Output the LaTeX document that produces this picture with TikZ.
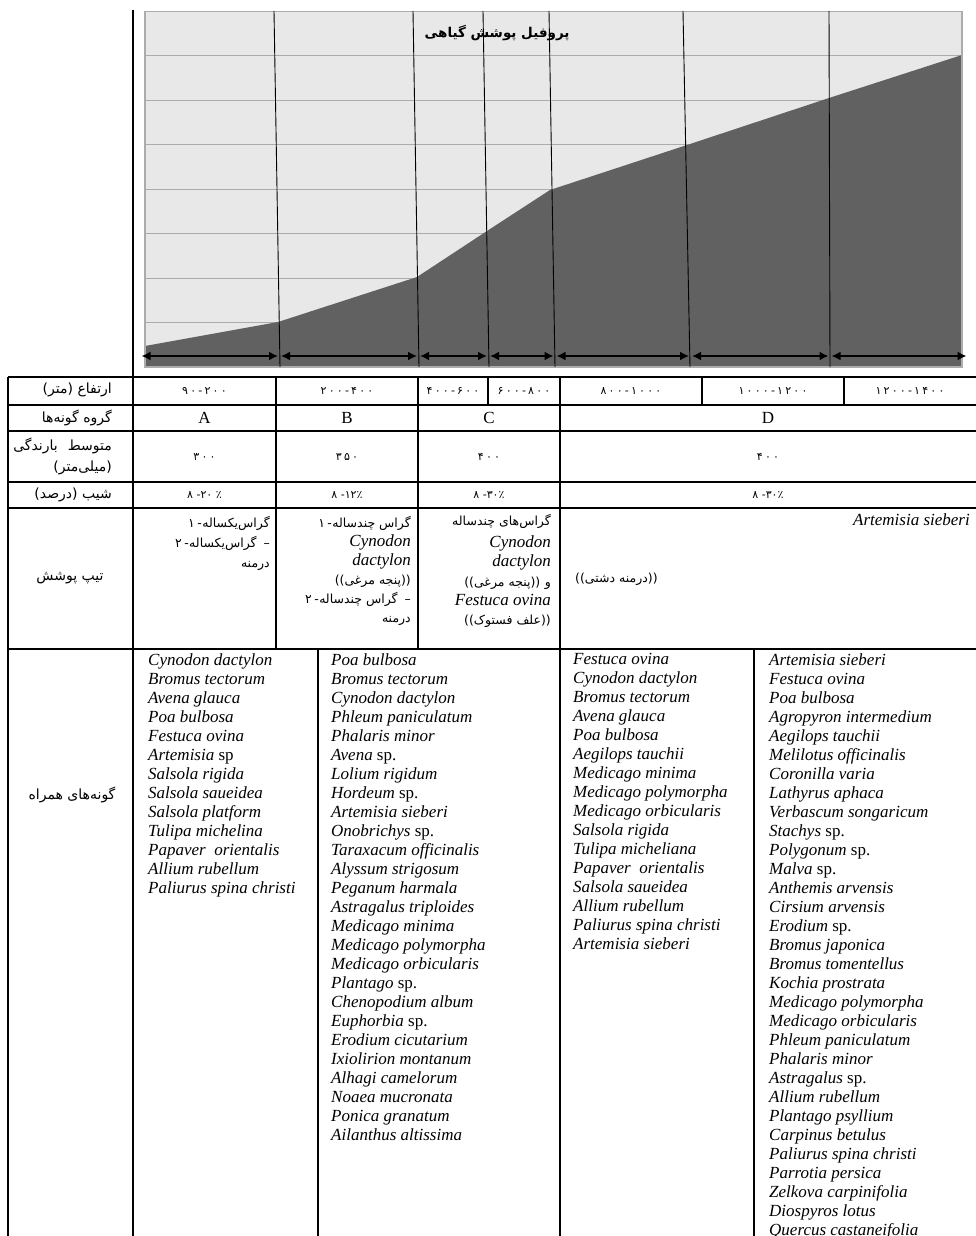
\documentclass[tikz,border=0pt]{standalone}
\usepackage{fontspec}
\setmainfont{Liberation Serif}
\newfontfamily\farsi[Script=Arabic]{DejaVu Sans}
\newfontfamily\fanum[LetterSpace=20]{DejaVu Sans}
\TeXXeTstate=1
\usetikzlibrary{arrows.meta}
\newcommand{\fa}[1]{{\farsi\beginR #1\endR}}

\tikzset{
  grid line/.style={draw=gray!65, line width=0.8pt},
  zone line/.style={draw=black, line width=0.9pt},
  span arrow/.style={{Latex[length=9pt,width=9pt]}-{Latex[length=9pt,width=9pt]}, line width=1.8pt, shorten <=1.5pt, shorten >=1.5pt},
  rule/.style={line width=1.8pt},
  fa label/.style={font=\farsi\fontsize{14}{16}\selectfont, inner sep=0pt},
  num/.style={font=\fanum\fontsize{11}{12}\selectfont, inner sep=0pt},
  group/.style={font=\fontsize{17}{19}\selectfont, inner sep=0pt},
  cell/.style={font=\farsi\fontsize{12.5}{15}\selectfont, anchor=base east, inner sep=0pt},
  cellnum/.style={font=\fanum\fontsize{12.5}{15}\selectfont, anchor=base east, inner sep=0pt},
  cellit/.style={font=\itshape\fontsize{17}{19}\selectfont, anchor=base east, inner sep=0pt},
  species/.style={font=\itshape\fontsize{17}{19}\selectfont, align=left, anchor=north west, inner sep=0pt},
}

\begin{document}
\begin{tikzpicture}[x=1pt,y=-1pt]
\useasboundingbox (0,0) rectangle (976,1236);

% Profil
\fill[gray!18] (145,11) rectangle (962,367);
\foreach \k in {0,...,8}
  \draw[grid line] (145,{11+44.5*\k}) -- (962,{11+44.5*\k});
\fill[black!62] (145,346) -- (278,322) -- (417,277) -- (487,231) -- (550,190)
  -- (687,145) -- (829,98) -- (962,55) -- (962,367) -- (145,367) -- cycle;
\draw[gray!65, line width=1.5pt] (145,11) -- (145,367) -- (962,367) -- (962,11);
\node[font=\farsi\bfseries\fontsize{13.5}{15}\selectfont] (titel) at (497,33) {\fa{پروفیل پوشش گیاهی}};

% Grenzen der Hoehenstufen
\draw[zone line] (274,11) -- (280,367);
\draw[zone line] (413,11) -- (419,367);
\draw[zone line] (483,11) -- (489,367);
\draw[zone line] (549,11) -- (555,367);
\draw[zone line] (683,11) -- (690,367);
\draw[zone line] (829,11) -- (830,367);

% Pfeile
\coordinate (b0) at (140,356);
\coordinate (b1) at (279.5,356);
\coordinate (b2) at (418.5,356);
\coordinate (b3) at (488.5,356);
\coordinate (b4) at (555,356);
\coordinate (b5) at (690.5,356);
\coordinate (b6) at (830,356);
\coordinate (b7) at (968,356);
\draw[span arrow] (b0) -- (b1);
\draw[span arrow] (b1) -- (b2);
\draw[span arrow] (b2) -- (b3);
\draw[span arrow] (b3) -- (b4);
\draw[span arrow] (b4) -- (b5);
\draw[span arrow] (b5) -- (b6);
\draw[span arrow] (b6) -- (b7);

% Tabelle
\draw[rule] (133,10) -- (133,1236);
\draw[rule] (8,377) -- (976,377);
\draw[rule] (8,405) -- (976,405);
\draw[rule] (8,431) -- (976,431);
\draw[rule] (8,482) -- (976,482);
\draw[rule] (8,508) -- (976,508);
\draw[rule] (8,649) -- (976,649);
\draw[rule] (8,377) -- (8,1236);
\draw[rule] (276,377) -- (276,649);
\draw[rule] (418,377) -- (418,649);
\draw[rule] (560,377) -- (560,1236);
\draw[line width=1.2pt] (488,377) -- (488,405);
\draw[line width=1.2pt] (702,377) -- (702,405);
\draw[line width=1.2pt] (844,377) -- (844,405);
\draw[rule] (318,649) -- (318,1236);
\draw[rule] (754,649) -- (754,1236);

% Kopfspalte
\node[fa label, anchor=east] (hAlt) at (112,390) {\fa{ارتفاع (متر)}};
\node[fa label, anchor=east] (hGrp) at (112,418) {\fa{گروه گونه‌ها}};
\node[fa label, anchor=east] (hRain) at (112,446) {\fa{متوسط\hspace{10pt}بارندگی}};
\node[fa label, anchor=east] (hRain2) at (112,468) {\fa{(میلی‌متر)}};
\node[fa label, anchor=east] (hSlope) at (112,495) {\fa{شیب (درصد)}};
\node[fa label] (hType) at (70,578) {\fa{تیپ پوشش}};
\node[fa label] (hSpec) at (72,795) {\fa{گونه‌های همراه}};

% Hoehe
\node[num] (alt1) at (204.5,391) {۹۰-۲۰۰};
\node[num] (alt2) at (347,391) {۲۰۰-۴۰۰};
\node[num] (alt3) at (453,391) {۴۰۰-۶۰۰};
\node[num] (alt4) at (524,391) {۶۰۰-۸۰۰};
\node[num] (alt5) at (631,391) {۸۰۰-۱۰۰۰};
\node[num] (alt6) at (773,391) {۱۰۰۰-۱۲۰۰};
\node[num] (alt7) at (910,391) {۱۲۰۰-۱۴۰۰};

% Gruppen
\node[group] (gA) at (204.5,418) {A};
\node[group] (gB) at (347,418) {B};
\node[group] (gC) at (489,418) {C};
\node[group] (gD) at (768,418) {D};

% Niederschlag
\node[num] (rA) at (204.5,457) {۳۰۰};
\node[num] (rB) at (347,457) {۳۵۰};
\node[num] (rC) at (489,457) {۴۰۰};
\node[num] (rD) at (768,457) {۴۰۰};

% Neigung
\node[num] (sA) at (204.5,495) {\fa{٪ ۲۰- ۸}};
\node[num] (sB) at (347,495) {\fa{۱۲٪- ۸}};
\node[num] (sC) at (489,495) {\fa{۳۰٪- ۸}};
\node[num] (sD) at (768,495) {\fa{۳۰٪- ۸}};

% Vegetationstyp A
\node[cell] (tA1) at (270,527) {\fa{گراس‌یکساله}};
\node[cellnum] (tA1n) at (tA1.base west) {۱-};
\node[cellnum] (tA2d) at (270,547) {\ –};
\node[cell] (tA2) at (tA2d.base west) {\fa{گراس‌یکساله}};
\node[cellnum] (tA2n) at (tA2.base west) {۲-};
\node[cell] (tA3) at (270,567) {\fa{درمنه}};

% Vegetationstyp B
\node[cell] (tB1) at (411,527) {\fa{گراس چندساله}};
\node[cellnum] (tB1n) at (tB1.base west) {۱-};
\node[cellit] (tB2) at (411,546) {Cynodon};
\node[cellit] (tB3) at (411,565) {dactylon};
\node[cell] (tB4) at (411,584) {\fa{((پنجه مرغی))}};
\node[cellnum] (tB5d) at (411,603) {\ –};
\node[cell] (tB5) at (tB5d.base west) {\fa{گراس چندساله}};
\node[cellnum] (tB5n) at (tB5.base west) {۲-\ };
\node[cell] (tB6) at (411,622) {\fa{درمنه}};

% Vegetationstyp C
\node[cell] (tC1) at (551,525) {\fa{گراس‌های چندساله}};
\node[cellit] (tC2) at (551,547) {Cynodon};
\node[cellit] (tC3) at (551,566) {dactylon};
\node[cell] (tC4o) at (551,586) {\fa{و}};
\node[cell] (tC4) at ([xshift=-4pt]tC4o.base west) {\fa{((پنجه مرغی))}};
\node[cellit] (tC5) at (551,605) {Festuca ovina};
\node[cell] (tC6) at (551,624) {\fa{((علف فستوک))}};

% Vegetationstyp D
\node[cellit] (tD1) at (970,525) {Artemisia sieberi};
\node[cell, anchor=base west] (tD2) at (575,582) {\fa{((درمنه دشتی))}};

% Begleitarten
\node[species] (spA) at (148,653) {Cynodon dactylon\\ Bromus tectorum\\ Avena glauca\\ Poa bulbosa\\ Festuca ovina\\
Artemisia \textup{sp}\\ Salsola rigida\\ Salsola saueidea\\ Salsola platform\\ Tulipa michelina\\
Papaver\ \ orientalis\\ Allium rubellum\\ Paliurus spina christi};
\node[species] (spB) at (331,653) {Poa bulbosa\\ Bromus tectorum\\ Cynodon dactylon\\ Phleum paniculatum\\ Phalaris minor\\
Avena \textup{sp.}\\ Lolium rigidum\\ Hordeum \textup{sp.}\\ Artemisia sieberi\\ Onobrichys \textup{sp.}\\
Taraxacum officinalis\\ Alyssum strigosum\\ Peganum harmala\\ Astragalus triploides\\ Medicago minima\\
Medicago polymorpha\\ Medicago orbicularis\\ Plantago \textup{sp.}\\ Chenopodium album\\ Euphorbia \textup{sp.}\\
Erodium cicutarium\\ Ixiolirion montanum\\ Alhagi camelorum\\ Noaea mucronata\\ Ponica granatum\\
Ailanthus altissima};
\node[species] (spC) at (573,653) {Festuca ovina\\ Cynodon dactylon\\ Bromus tectorum\\ Avena glauca\\ Poa bulbosa\\
Aegilops tauchii\\ Medicago minima\\ Medicago polymorpha\\ Medicago orbicularis\\ Salsola rigida\\
Tulipa micheliana\\ Papaver\ \ orientalis\\ Salsola saueidea\\ Allium rubellum\\ Paliurus spina christi\\
Artemisia sieberi};
\node[species] (spD) at (769,653) {Artemisia sieberi\\ Festuca ovina\\ Poa bulbosa\\ Agropyron intermedium\\ Aegilops tauchii\\
Melilotus officinalis\\ Coronilla varia\\ Lathyrus aphaca\\ Verbascum songaricum\\ Stachys \textup{sp.}\\
Polygonum \textup{sp.}\\ Malva \textup{sp.}\\ Anthemis arvensis\\ Cirsium arvensis\\ Erodium \textup{sp.}\\
Bromus japonica\\ Bromus tomentellus\\ Kochia prostrata\\ Medicago polymorpha\\ Medicago orbicularis\\
Phleum paniculatum\\ Phalaris minor\\ Astragalus \textup{sp.}\\ Allium rubellum\\ Plantago psyllium\\
Carpinus betulus\\ Paliurus spina christi\\ Parrotia persica\\ Zelkova carpinifolia\\ Diospyros lotus\\
Quercus castaneifolia};

\end{tikzpicture}
\end{document}
